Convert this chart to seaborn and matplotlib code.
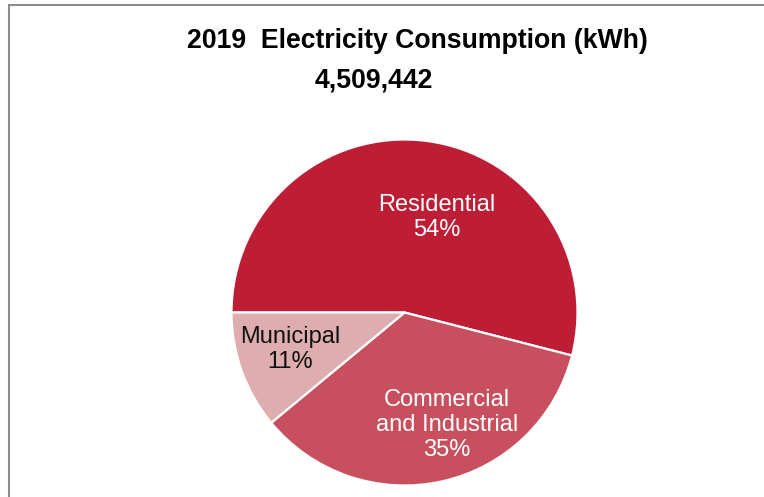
import matplotlib
matplotlib.use("Agg")
import matplotlib.pyplot as plt
from matplotlib.lines import Line2D
import seaborn as sns

# 2019 electricity consumption by sector (share of total, %)
sectors = ["Residential", "Commercial\nand Industrial", "Municipal"]
shares = [54, 35, 11]
total_kwh = 4509442
title = "2019  Electricity Consumption (kWh)"

colors = ["#BE1E35", "#C8505E", "#DDADAF"]
label_colors = ["white", "white", "#111111"]
# label anchors in pie (unit-radius) coordinates
label_xy = [(0.185, 0.55), (0.245, -0.65), (-0.66, -0.215)]

sns.set_theme(style="white")
plt.rcParams["font.family"] = ["Liberation Sans", "DejaVu Sans"]

W, H, DPI = 764, 497, 100
fig = plt.figure(figsize=(W / DPI, H / DPI), dpi=DPI)
fig.patch.set_facecolor("white")

# pie centred at (404.5, 312.5) px with radius 173 px
cx, cy, r = 404.5, 312.5, 173
ax = fig.add_axes([(cx - r) / W, (H - cy - r) / H, 2 * r / W, 2 * r / H])
ax.pie(shares, colors=colors, startangle=180, counterclock=False,
       wedgeprops=dict(edgecolor="white", linewidth=1.6))
ax.set_xlim(-1, 1)
ax.set_ylim(-1, 1)
ax.set_aspect("equal")
ax.axis("off")

for name, val, (x, y), c in zip(sectors, shares, label_xy, label_colors):
    ax.text(x, y, f"{name}\n{val}%", ha="center", va="center",
            fontsize=17, color=c, linespacing=1.2)

fig.text(417.5 / W, (H - 48) / H, title, ha="center", va="baseline",
         fontsize=19.2, fontweight="bold", color="black")
fig.text(374 / W, (H - 87) / H, f"{total_kwh:,}", ha="center", va="baseline",
         fontsize=19.2, fontweight="bold", color="black")

# frame lines along the top and left edges
fig.add_artist(Line2D([8.5 / W, 1.0], [1 - 4.5 / H, 1 - 4.5 / H],
                      transform=fig.transFigure, color="#8c8c8c", lw=1.5))
fig.add_artist(Line2D([8.5 / W, 8.5 / W], [0.0, 1 - 4.5 / H],
                      transform=fig.transFigure, color="#8c8c8c", lw=1.5))

fig.savefig("out.png", dpi=DPI, facecolor="white")
